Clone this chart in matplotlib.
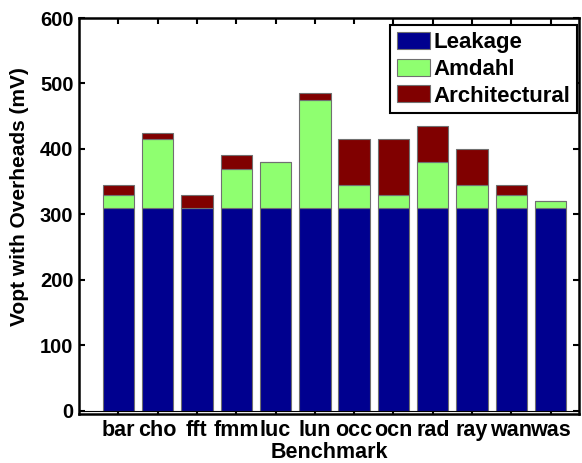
import numpy as np
import matplotlib.pyplot as plt

plt.rcParams['font.family'] = 'Liberation Sans'
plt.rcParams['font.weight'] = 'bold'

benchmarks = ['bar', 'cho', 'fft', 'fmm', 'luc', 'lun',
              'occ', 'ocn', 'rad', 'ray', 'wan', 'was']
leakage = [310, 310, 310, 310, 310, 310, 310, 310, 310, 310, 310, 310]
amdahl = [20, 105, 0, 60, 70, 165, 35, 20, 70, 35, 20, 10]
architectural = [15, 10, 20, 20, 0, 10, 70, 85, 55, 55, 15, 0]

names = ['Leakage', 'Amdahl', 'Architectural']
colors = ['#00008f', '#8fff70', '#800000']

xs = np.arange(1, len(benchmarks) + 1)
width = 0.8

fig = plt.figure(figsize=(5.82, 4.63), dpi=100)
ax = fig.add_axes([79 / 582, 1 - 414 / 463, 500 / 582, 396 / 463])

bottom = np.zeros(len(xs))
for vals, name, col in zip([leakage, amdahl, architectural], names, colors):
    ax.bar(xs, vals, width=width, bottom=bottom, color=col,
           edgecolor='#707070', linewidth=0.8, label=name, zorder=2)
    bottom += np.array(vals)

ax.axhline(0, color='black', linewidth=0.8, zorder=3)

ax.set_xlim(0, 12.72)
ax.set_ylim(-5, 600)
ax.set_xticks(xs)
ax.set_xticklabels(benchmarks, fontsize=15.5, fontweight='bold')
ax.set_yticks(np.arange(0, 601, 100))
ax.set_yticklabels([str(v) for v in range(0, 601, 100)], fontsize=14.5,
                   fontweight='bold')
ax.tick_params(direction='in', length=4, width=1.5, top=True, right=True,
               pad=4)

for s in ax.spines.values():
    s.set_linewidth(1.8)

ax.set_xlabel('Benchmark', fontsize=15.5, fontweight='bold', labelpad=1)
ax.set_ylabel('Vopt with Overheads (mV)', fontsize=15, fontweight='bold')
ax.yaxis.set_label_coords(-0.1, 0.55)

leg = ax.legend(loc='upper right', bbox_to_anchor=(0.996, 0.982),
                borderaxespad=0, fancybox=False, framealpha=1,
                edgecolor='black', prop={'weight': 'bold', 'size': 16},
                handlelength=1.5, handleheight=0.8, handletextpad=0.15,
                labelspacing=0.25, borderpad=0.3)
leg.get_frame().set_linewidth(1.5)

plt.savefig('out.png', dpi=100)
